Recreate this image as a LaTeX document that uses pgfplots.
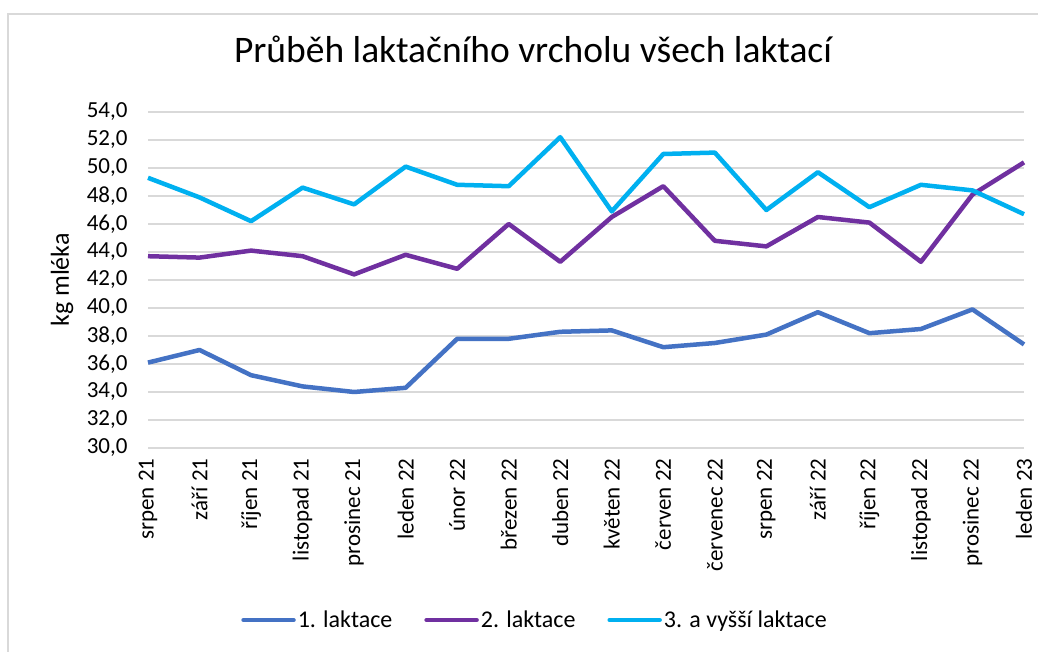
\documentclass[border=0pt]{standalone}
\usepackage{pgfplots}
\pgfplotsset{compat=1.18}
\usepackage{fontspec}
\setmainfont{Carlito}
\definecolor{c1}{HTML}{4472C4}
\definecolor{c2}{HTML}{7030A0}
\definecolor{c3}{HTML}{00B0F0}
\definecolor{gridc}{HTML}{D9D9D9}
\begin{document}
\begin{tikzpicture}
\useasboundingbox (0,0) rectangle (1038bp,652bp);
\fill[white] (0,0) rectangle (1038bp,652bp);
\draw[gridc, line width=1.5bp] (8bp,-10bp) -- (8bp,638bp) -- (1060bp,638bp);
\node[anchor=base, font=\fontsize{37.5bp}{42bp}\selectfont] at (533bp,589bp) {Průběh laktačního vrcholu všech laktací};
\begin{axis}[
  at={(148bp,204bp)}, anchor=south west,
  scale only axis, width=876bp, height=336bp,
  xmin=0, xmax=17, ymin=30, ymax=54,
  xtick={0,...,17},
  xticklabels={srpen 21, září 21, říjen 21, listopad 21, prosinec 21, leden 22, únor 22, březen 22, duben 22, květen 22, červen 22, červenec 22, srpen 22, září 22, říjen 22, listopad 22, prosinec 22, leden 23},
  ytick={30,32,...,54},
  axis line style={draw=none},
  major tick length=0pt,
  ymajorgrids, grid style={gridc, line width=1.5bp},
  tick label style={font=\fontsize{23bp}{27bp}\selectfont},
  yticklabel style={xshift=-17bp, /pgf/number format/.cd, fixed, fixed zerofill, precision=1, use comma, assume math mode=true},
  xticklabel style={rotate=90, anchor=east, xshift=-7bp},
  ylabel={kg mléka},
  ylabel style={font=\fontsize{26bp}{30bp}\selectfont, at={(rel axis cs:0,0.5)}, anchor=center, rotate=0, yshift=86bp},
  legend columns=3,
  legend style={at={(rel axis cs:0.4418,-0.512)}, anchor=center, draw=none, fill=none, font=\fontsize{24bp}{28bp}\selectfont,
    /tikz/every even column/.append style={column sep=30bp}},
  legend image code/.code={\draw[#1, line width=4.5bp, line cap=round] (0bp,0bp) -- (50bp,0bp);},
  every axis plot/.append style={line width=4.5bp, line join=round, no marks},
  clip=false,
]
\addplot[c1] coordinates {(0,36.1)(1,37.0)(2,35.2)(3,34.4)(4,34.0)(5,34.3)(6,37.8)(7,37.8)(8,38.3)(9,38.4)(10,37.2)(11,37.5)(12,38.1)(13,39.7)(14,38.2)(15,38.5)(16,39.9)(17,37.4)};
\addlegendentry{1. laktace}
\addplot[c2] coordinates {(0,43.7)(1,43.6)(2,44.1)(3,43.7)(4,42.4)(5,43.8)(6,42.8)(7,46.0)(8,43.3)(9,46.5)(10,48.7)(11,44.8)(12,44.4)(13,46.5)(14,46.1)(15,43.3)(16,48.1)(17,50.4)};
\addlegendentry{2. laktace}
\addplot[c3] coordinates {(0,49.3)(1,47.9)(2,46.2)(3,48.6)(4,47.4)(5,50.1)(6,48.8)(7,48.7)(8,52.2)(9,46.9)(10,51.0)(11,51.1)(12,47.0)(13,49.7)(14,47.2)(15,48.8)(16,48.4)(17,46.7)};
\addlegendentry{3. a vyšší laktace}
\end{axis}
\end{tikzpicture}
\end{document}
